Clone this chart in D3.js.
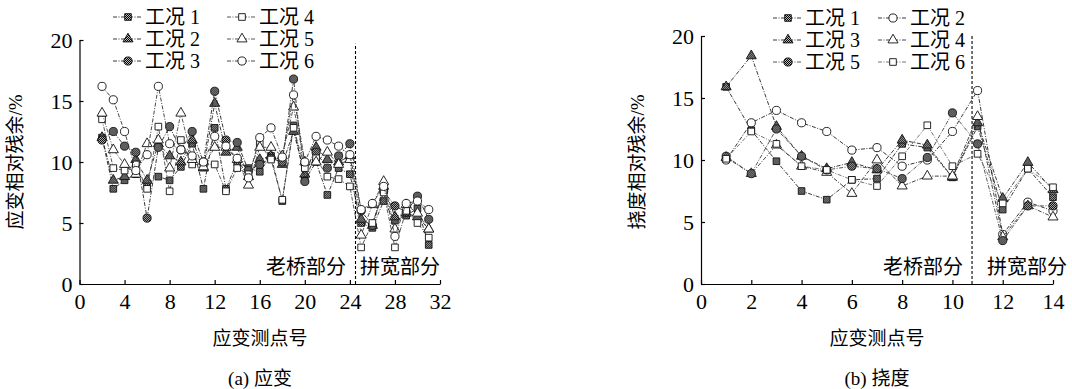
<!DOCTYPE html>
<html lang="zh">
<head>
    <meta charset="UTF-8">
    <title>应变与挠度相对残余</title>
    <script src="https://d3js.org/d3.v7.min.js"></script>
    <style>
        body {
            margin: 0;
            padding: 0;
            background-color: #fff;
        }
        svg text {
            font-family: "Liberation Serif", "Noto Sans CJK SC", serif;
            fill: #000;
        }
    </style>
</head>
<body>
    <svg id="chart" width="1072" height="389"></svg>

    <script>
        // (a) strain: measuring points 2..31
        const strainPoints = d3.range(2, 32);
        const strainCase1 = [12.0, 7.8, 8.5, 9.0, 8.2, 8.8, 8.5, 9.6, 11.5, 7.8, 12.8, 7.8, 10.0, 9.5, 9.2, 10.5, 6.8, 13.0, 8.5, 10.0, 7.3, 9.5, 9.0, 5.0, 4.6, 6.8, 5.2, 5.6, 6.2, 3.2];
        const strainCase2 = [12.0, 8.5, 8.8, 10.2, 8.5, 11.5, 10.5, 10.0, 11.8, 9.5, 14.8, 10.8, 11.2, 8.8, 10.2, 10.5, 9.8, 12.5, 9.0, 11.2, 10.2, 10.0, 10.5, 5.3, 4.8, 8.0, 5.5, 5.8, 5.5, 4.5];
        const strainCase3 = [11.8, 12.5, 11.3, 10.8, 5.4, 11.2, 12.9, 11.0, 12.5, 10.0, 15.8, 11.8, 11.6, 9.3, 9.8, 10.3, 10.0, 16.8, 8.4, 10.8, 9.5, 10.5, 11.5, 6.0, 4.8, 7.6, 6.4, 5.9, 7.2, 5.3];
        const strainCase4 = [13.5, 9.5, 9.3, 9.8, 7.8, 12.9, 7.6, 11.8, 9.8, 9.8, 9.8, 7.6, 9.5, 9.0, 11.5, 10.2, 6.9, 12.8, 9.5, 10.3, 8.8, 8.6, 8.0, 3.0, 5.0, 7.5, 3.0, 6.0, 5.0, 3.8];
        const strainCase5 = [14.0, 11.0, 9.8, 9.0, 11.5, 11.8, 9.5, 14.0, 10.2, 9.6, 11.2, 11.2, 10.2, 8.1, 11.2, 11.2, 10.5, 14.5, 10.0, 10.0, 10.8, 9.8, 10.2, 4.0, 6.5, 8.4, 4.5, 6.5, 5.8, 4.5];
        const strainCase6 = [16.2, 15.1, 12.5, 9.3, 10.6, 16.2, 11.5, 11.0, 10.5, 10.0, 12.1, 11.3, 10.3, 8.7, 12.0, 12.8, 10.4, 15.5, 10.0, 12.1, 11.8, 11.3, 10.6, 6.1, 6.6, 8.0, 3.9, 6.6, 6.8, 6.1];

        // (b) deflection: measuring points 1..14
        const deflPoints = d3.range(1, 15);
        const deflCase1 = [15.9, 12.4, 9.9, 7.5, 6.8, 8.4, 8.5, 11.3, 11.0, 8.6, 12.7, 6.0, 9.3, 7.0];
        const deflCase2 = [10.0, 13.0, 14.0, 13.0, 12.3, 10.8, 11.0, 9.5, 10.0, 12.3, 15.6, 4.0, 6.6, 5.9];
        const deflCase3 = [15.9, 18.4, 12.7, 10.3, 9.3, 9.8, 9.2, 11.6, 11.2, 8.6, 13.0, 6.9, 9.8, 7.6];
        const deflCase4 = [10.2, 8.9, 11.2, 9.5, 9.0, 7.3, 10.0, 7.9, 8.7, 8.7, 13.5, 3.8, 6.3, 5.4];
        const deflCase5 = [10.3, 8.9, 12.5, 10.3, 9.2, 9.5, 9.3, 8.5, 10.2, 13.8, 11.3, 3.5, 6.3, 6.3];
        const deflCase6 = [10.1, 12.3, 11.3, 9.5, 9.2, 8.4, 7.9, 10.3, 12.8, 9.5, 10.5, 6.5, 9.3, 7.8];

        const caseNames = ['工况 1', '工况 2', '工况 3', '工况 4', '工况 5', '工况 6'];
        const yTicks = [0, 5, 10, 15, 20];
        const strainXTicks = [0, 4, 8, 12, 16, 20, 24, 28, 32];
        const deflXTicks = [0, 2, 4, 6, 8, 10, 12, 14];

        const svg = d3.select('#chart');

        // halftone fill used by the "filled" markers
        const defs = svg.append('defs');
        const pat = defs.append('pattern')
            .attr('id', 'dots')
            .attr('width', 2).attr('height', 2)
            .attr('patternUnits', 'userSpaceOnUse');
        pat.append('rect').attr('width', 2).attr('height', 2).attr('fill', '#bbb');
        pat.append('rect').attr('width', 1).attr('height', 1).attr('fill', '#000');
        pat.append('rect').attr('x', 1).attr('y', 1).attr('width', 1).attr('height', 1).attr('fill', '#000');

        const symbols = {
            square: d3.symbol().type(d3.symbolSquare).size(44),
            triangle: d3.symbol().type(d3.symbolTriangle).size(44),
            circle: d3.symbol().type(d3.symbolCircle).size(52)
        };

        // Draw one panel
        const drawPanel = (cfg) => {
            const x = d3.scaleLinear().domain(cfg.xDomain).range(cfg.xRange);
            const y = d3.scaleLinear().domain([0, 20]).range(cfg.yRange);
            const g = svg.append('g');

            const yAxis = d3.axisLeft(y).tickValues(yTicks).tickSize(-4).tickSizeOuter(0).tickPadding(7);
            const xAxis = d3.axisBottom(x).tickValues(cfg.xTicks).tickSize(-4).tickSizeOuter(0).tickPadding(9);

            const ya = g.append('g').attr('transform', `translate(${cfg.xRange[0]},0)`).call(yAxis);
            const xa = g.append('g').attr('transform', `translate(0,${cfg.yRange[0]})`).call(xAxis);
            [ya, xa].forEach(a => {
                a.selectAll('path, line').attr('stroke', '#000').attr('stroke-width', 1.2);
                a.selectAll('text').attr('font-size', 22).attr('font-family', 'Liberation Serif, serif');
            });

            // boundary between old bridge and widened part
            g.append('line')
                .attr('x1', x(cfg.split)).attr('x2', x(cfg.split))
                .attr('y1', y(0)).attr('y2', y(cfg.splitTop))
                .attr('stroke', '#000').attr('stroke-width', 1.1)
                .attr('stroke-dasharray', '3,2');

            const line = d3.line().x(d => x(d[0])).y(d => y(d[1]));

            cfg.series.forEach((vals, i) => {
                const pts = cfg.points.map((p, k) => [p, vals[k]]);
                const st = cfg.styles[i];
                g.append('path')
                    .datum(pts)
                    .attr('d', line)
                    .attr('fill', 'none')
                    .attr('stroke', st.lineColor)
                    .attr('stroke-width', 0.9)
                    .attr('stroke-dasharray', '4,1.5,1,1.5');
                g.selectAll(null)
                    .data(pts)
                    .enter()
                    .append('path')
                    .attr('d', symbols[st.shape])
                    .attr('transform', d => `translate(${x(d[0])},${y(d[1])})`)
                    .attr('fill', st.filled ? 'url(#dots)' : '#fff')
                    .attr('stroke', '#111')
                    .attr('stroke-width', 0.9);
            });

            // legend, 2 columns x 3 rows
            cfg.legendOrder.forEach((idx, j) => {
                const col = j < 3 ? 0 : 1;
                const row = j % 3;
                const lx = cfg.legendX[col];
                const ly = cfg.legendY[row];
                const st = cfg.styles[idx];
                g.append('line')
                    .attr('x1', lx).attr('x2', lx + 29)
                    .attr('y1', ly).attr('y2', ly)
                    .attr('stroke', st.lineColor).attr('stroke-width', 0.9)
                    .attr('stroke-dasharray', '4,1.5,1,1.5');
                g.append('path')
                    .attr('d', symbols[st.shape])
                    .attr('transform', `translate(${lx + 15},${ly})`)
                    .attr('fill', st.filled ? 'url(#dots)' : '#fff')
                    .attr('stroke', '#111').attr('stroke-width', 0.9);
                g.append('text')
                    .attr('x', lx + 32).attr('y', ly + 7)
                    .attr('font-size', 20)
                    .text(caseNames[idx]);
            });

            // region labels
            g.append('text').attr('x', cfg.oldLabelX).attr('y', 274)
                .attr('font-size', 20).attr('text-anchor', 'end').text('老桥部分');
            g.append('text').attr('x', cfg.newLabelX).attr('y', 274)
                .attr('font-size', 20).text('拼宽部分');

            // axis titles and caption
            g.append('text')
                .attr('transform', `translate(${cfg.yTitleX},${162}) rotate(-90)`)
                .attr('text-anchor', 'middle').attr('font-size', 19)
                .text(cfg.yTitle);
            g.append('text')
                .attr('x', cfg.titleX).attr('y', 345)
                .attr('text-anchor', 'middle').attr('font-size', 19)
                .text('应变测点号');
            g.append('text')
                .attr('x', cfg.titleX).attr('y', 385)
                .attr('text-anchor', 'middle').attr('font-size', 19)
                .text(cfg.caption);
        };

        const strainStyles = [
            { shape: 'square', filled: true, lineColor: '#222' },
            { shape: 'triangle', filled: true, lineColor: '#222' },
            { shape: 'circle', filled: true, lineColor: '#222' },
            { shape: 'square', filled: false, lineColor: '#444' },
            { shape: 'triangle', filled: false, lineColor: '#444' },
            { shape: 'circle', filled: false, lineColor: '#333' }
        ];

        drawPanel({
            xDomain: [0, 32], xRange: [79.5, 440], yRange: [284, 40],
            xTicks: strainXTicks,
            points: strainPoints,
            series: [strainCase1, strainCase2, strainCase3, strainCase4, strainCase5, strainCase6],
            styles: strainStyles,
            legendOrder: [0, 1, 2, 3, 4, 5],
            legendX: [113, 227], legendY: [17, 39, 61],
            split: 24.5, splitTop: 19.7,
            oldLabelX: 346, newLabelX: 360,
            yTitleX: 22, yTitle: '应变相对残余/%',
            titleX: 260, caption: '(a) 应变'
        });

        const deflStyles = [
            { shape: 'square', filled: true, lineColor: '#222' },
            { shape: 'circle', filled: false, lineColor: '#222' },
            { shape: 'triangle', filled: true, lineColor: '#222' },
            { shape: 'triangle', filled: false, lineColor: '#333' },
            { shape: 'circle', filled: true, lineColor: '#444' },
            { shape: 'square', filled: false, lineColor: '#666' }
        ];

        drawPanel({
            xDomain: [0, 14], xRange: [701, 1053], yRange: [284, 36],
            xTicks: deflXTicks,
            points: deflPoints,
            series: [deflCase1, deflCase2, deflCase3, deflCase4, deflCase5, deflCase6],
            styles: deflStyles,
            legendOrder: [0, 2, 4, 1, 3, 5],
            legendX: [773, 878], legendY: [18, 40, 62],
            split: 10.78, splitTop: 20,
            oldLabelX: 963, newLabelX: 987,
            yTitleX: 644, yTitle: '挠度相对残余/%',
            titleX: 877, caption: '(b) 挠度'
        });
    </script>
</body>
</html>
